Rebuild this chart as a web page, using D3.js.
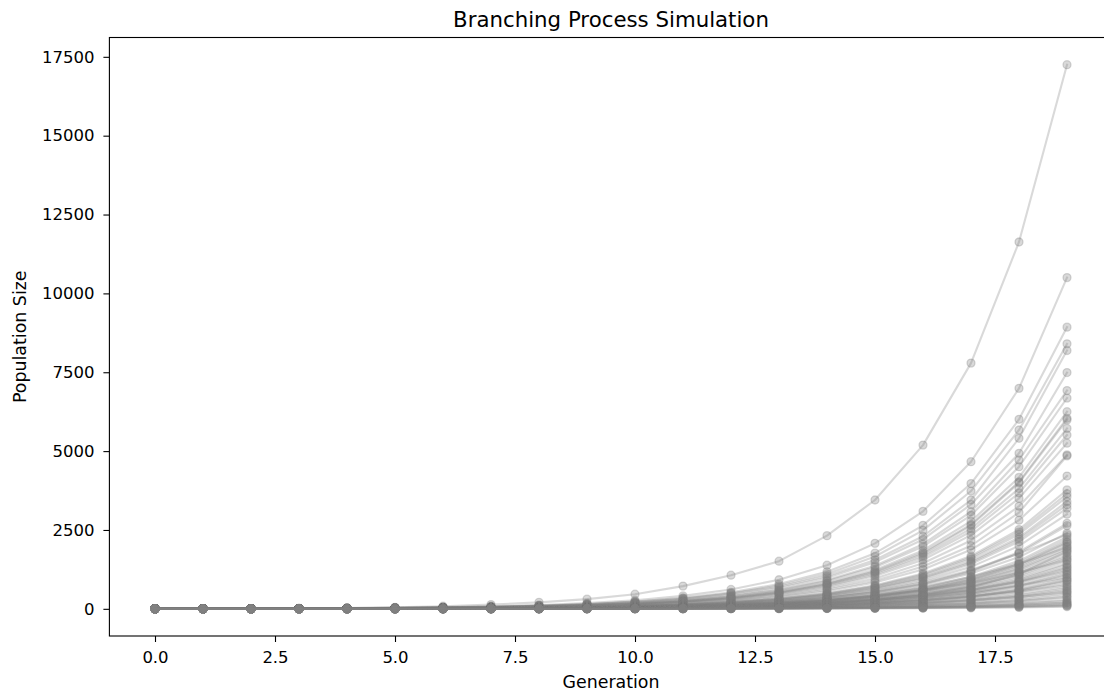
<!DOCTYPE html>
<html>
<head>
<meta charset="utf-8">
<script src="https://cdn.jsdelivr.net/npm/d3@7"></script>
<style>
    html, body { margin: 0; padding: 0; background: #fff; }
    text { font-family: "DejaVu Sans", sans-serif; fill: #000; }
</style>
</head>
<body>
<svg id="chart" width="1104" height="692"></svg>
<script>
// Generation index along the x axis
const generations = [0, 1, 2, 3, 4, 5, 6, 7, 8, 9, 10, 11, 12, 13, 14, 15, 16, 17, 18, 19];

// Population size per generation, one row per simulated run
const topRuns = [
    [1, 3, 6, 13, 26, 45, 82, 135, 205, 307, 464, 720, 1066, 1510, 2320, 3450, 5190, 7790, 11630, 17250],
    [1, 3, 6, 13, 24, 36, 54, 81, 121, 182, 273, 410, 615, 922, 1384, 2076, 3090, 4664, 6990, 10500]
];

const upperRuns = [
    [1, 2, 5, 10, 19, 31, 46, 69, 103, 155, 232, 349, 523, 784, 1176, 1765, 2647, 3971, 6008, 8930],
    [1, 3, 5, 9, 18, 29, 43, 65, 97, 146, 219, 328, 492, 738, 1106, 1660, 2489, 3734, 5670, 8400],
    [1, 2, 4, 9, 17, 28, 42, 63, 95, 142, 213, 320, 480, 700, 1040, 1550, 2300, 3450, 5406, 8190],
    [1, 2, 4, 8, 16, 26, 38, 58, 87, 130, 195, 292, 438, 658, 987, 1480, 2200, 3310, 4930, 7490],
    [1, 3, 5, 8, 15, 24, 36, 53, 80, 120, 180, 270, 405, 607, 910, 1365, 2050, 3078, 4718, 6920],
    [1, 2, 4, 7, 14, 23, 34, 51, 77, 116, 174, 260, 390, 586, 879, 1318, 1977, 2965, 4505, 6680],
    [1, 2, 3, 7, 13, 21, 32, 48, 72, 108, 163, 244, 366, 549, 823, 1235, 1852, 2778, 4167, 6250],
    [1, 2, 4, 7, 13, 21, 31, 46, 70, 105, 157, 235, 353, 529, 794, 1191, 1786, 2680, 4027, 6040],
    [1, 3, 5, 8, 13, 20, 30, 45, 68, 102, 153, 230, 345, 518, 777, 1166, 1750, 2640, 3993, 5990],
    [1, 2, 4, 6, 12, 19, 29, 44, 66, 99, 149, 223, 335, 502, 753, 1130, 1695, 2542, 3813, 5720],
    [1, 2, 3, 6, 12, 19, 28, 42, 64, 96, 144, 215, 323, 484, 727, 1090, 1635, 2452, 3673, 5510],
    [1, 2, 4, 6, 11, 18, 27, 40, 61, 91, 137, 205, 307, 461, 692, 1038, 1557, 2335, 3500, 5250],
    [1, 2, 3, 6, 11, 17, 25, 38, 56, 85, 127, 190, 285, 428, 642, 963, 1445, 2168, 3252, 4880],
    [1, 3, 4, 7, 11, 16, 24, 36, 53, 80, 120, 180, 268, 400, 600, 890, 1340, 2000, 3050, 4850]
];

const middleRuns = [
    [1, 2, 3, 5, 9, 14, 22, 32, 49, 73, 110, 164, 246, 370, 555, 832, 1248, 1872, 2810, 4210],
    [1, 2, 3, 5, 8, 13, 19, 29, 44, 65, 98, 147, 220, 331, 496, 744, 1117, 1675, 2513, 3770],
    [1, 1, 2, 4, 8, 13, 19, 28, 42, 63, 95, 143, 214, 321, 482, 723, 1084, 1626, 2439, 3650],
    [1, 2, 3, 5, 8, 12, 18, 27, 41, 62, 92, 138, 208, 311, 467, 700, 1051, 1577, 2365, 3550],
    [1, 2, 3, 4, 8, 12, 17, 26, 39, 59, 88, 132, 198, 298, 447, 670, 1005, 1508, 2262, 3400],
    [1, 1, 2, 4, 7, 11, 17, 25, 38, 57, 86, 129, 193, 290, 435, 652, 979, 1468, 2202, 3300],
    [1, 2, 3, 5, 7, 11, 16, 25, 37, 55, 83, 125, 187, 280, 420, 631, 946, 1419, 2128, 3190],
    [1, 2, 2, 4, 7, 10, 15, 23, 35, 52, 78, 117, 175, 263, 394, 591, 887, 1330, 1995, 3000],
    [1, 1, 2, 4, 6, 9, 14, 21, 31, 47, 70, 106, 158, 237, 356, 534, 801, 1202, 1803, 2710],
    [1, 2, 3, 4, 6, 9, 14, 20, 30, 46, 69, 103, 154, 232, 347, 521, 782, 1172, 1760, 2640],
    [1, 2, 3, 4, 6, 9, 13, 19, 29, 44, 66, 100, 150, 230, 350, 520, 760, 1120, 1640, 2400],
    [1, 1, 2, 3, 5, 8, 12, 19, 30, 46, 70, 108, 165, 250, 380, 570, 840, 1230, 1750, 2350],
    [1, 1, 2, 3, 5, 8, 12, 18, 26, 40, 59, 89, 134, 200, 301, 451, 677, 1015, 1522, 2280],
    [1, 2, 2, 3, 5, 8, 11, 17, 25, 38, 57, 86, 128, 193, 289, 434, 650, 975, 1463, 2200],
    [1, 1, 2, 3, 5, 7, 11, 16, 25, 37, 55, 83, 125, 187, 280, 420, 631, 946, 1419, 2130],
    [1, 2, 2, 3, 4, 6, 9, 13, 20, 30, 46, 70, 108, 165, 255, 390, 600, 920, 1400, 2100],
    [1, 1, 2, 3, 5, 7, 10, 16, 24, 35, 53, 80, 119, 179, 269, 403, 604, 906, 1360, 2050],
    [1, 2, 2, 3, 4, 7, 10, 15, 23, 34, 51, 77, 115, 173, 260, 390, 585, 877, 1315, 1980],
    [1, 1, 2, 3, 4, 7, 11, 17, 26, 40, 61, 92, 140, 210, 315, 470, 700, 1020, 1420, 1950],
    [1, 2, 3, 3, 5, 7, 10, 15, 22, 33, 50, 75, 112, 168, 252, 380, 570, 850, 1270, 1900],
    [1, 1, 2, 3, 4, 6, 10, 14, 22, 32, 48, 73, 109, 163, 245, 368, 552, 828, 1241, 1860],
    [1, 1, 1, 2, 3, 4, 6, 9, 14, 21, 32, 50, 78, 120, 185, 285, 440, 680, 1100, 1820],
    [1, 2, 3, 3, 4, 6, 9, 14, 21, 31, 46, 69, 104, 156, 234, 350, 525, 788, 1182, 1780],
    [1, 1, 2, 3, 4, 6, 9, 13, 20, 30, 44, 67, 100, 150, 225, 337, 506, 759, 1138, 1700],
    [1, 1, 2, 2, 3, 5, 8, 12, 18, 27, 41, 62, 94, 140, 210, 315, 470, 720, 1100, 1650],
    [1, 2, 2, 3, 5, 7, 11, 17, 26, 40, 60, 90, 134, 196, 285, 410, 590, 820, 1150, 1550]
];

const lowerRuns = [
    [1, 1, 2, 2, 4, 5, 8, 12, 18, 28, 42, 62, 93, 140, 210, 315, 473, 709, 1064, 1600],
    [1, 2, 2, 3, 4, 5, 8, 12, 18, 27, 40, 60, 89, 134, 201, 302, 453, 680, 1020, 1520],
    [1, 1, 2, 2, 3, 5, 7, 11, 17, 25, 37, 56, 84, 126, 190, 285, 427, 640, 961, 1440],
    [1, 1, 2, 3, 4, 5, 8, 12, 18, 26, 39, 58, 86, 128, 190, 280, 410, 610, 920, 1400],
    [1, 1, 1, 2, 3, 5, 7, 10, 15, 23, 35, 52, 78, 117, 175, 263, 394, 591, 887, 1330],
    [1, 1, 1, 2, 3, 4, 6, 9, 14, 21, 32, 48, 72, 110, 165, 250, 380, 570, 860, 1300],
    [1, 2, 2, 3, 3, 4, 6, 10, 14, 22, 32, 48, 73, 109, 163, 245, 368, 552, 828, 1250],
    [1, 2, 2, 3, 4, 6, 9, 13, 19, 28, 42, 63, 92, 135, 195, 285, 420, 600, 860, 1200],
    [1, 1, 2, 2, 3, 4, 6, 9, 13, 20, 30, 45, 67, 101, 152, 228, 342, 512, 769, 1160],
    [1, 1, 1, 2, 2, 3, 5, 7, 11, 16, 24, 36, 55, 85, 130, 200, 310, 480, 730, 1100],
    [1, 1, 1, 2, 3, 4, 5, 8, 12, 18, 28, 42, 62, 93, 140, 210, 315, 473, 709, 1070],
    [1, 1, 2, 2, 3, 5, 7, 10, 15, 23, 35, 52, 78, 115, 170, 250, 360, 520, 740, 1000],
    [1, 1, 2, 2, 3, 3, 5, 8, 11, 17, 25, 38, 57, 86, 128, 193, 289, 434, 650, 980],
    [1, 1, 1, 2, 2, 3, 5, 7, 11, 16, 24, 35, 53, 80, 120, 180, 269, 404, 606, 920],
    [1, 1, 1, 1, 2, 3, 4, 6, 9, 14, 21, 32, 48, 72, 110, 165, 250, 380, 590, 900],
    [1, 2, 2, 2, 3, 3, 4, 7, 10, 15, 22, 34, 51, 76, 114, 171, 256, 384, 576, 860],
    [1, 1, 1, 2, 2, 3, 4, 6, 9, 14, 21, 31, 47, 70, 105, 158, 236, 355, 532, 800],
    [1, 2, 2, 2, 3, 4, 6, 9, 13, 19, 28, 42, 62, 92, 135, 195, 280, 400, 550, 750],
    [1, 1, 1, 1, 2, 2, 4, 5, 8, 12, 18, 28, 42, 62, 93, 140, 210, 315, 473, 700]
];

const smallRuns = [
    [1, 1, 2, 2, 2, 2, 3, 5, 7, 11, 17, 25, 38, 56, 85, 127, 190, 286, 429, 650],
    [1, 1, 1, 1, 2, 2, 3, 5, 7, 10, 15, 23, 35, 52, 78, 117, 175, 265, 400, 600],
    [1, 1, 1, 1, 2, 2, 3, 4, 6, 10, 14, 22, 32, 49, 73, 109, 164, 246, 370, 560],
    [1, 1, 2, 2, 3, 4, 5, 7, 10, 15, 22, 32, 46, 66, 95, 135, 195, 275, 380, 520],
    [1, 2, 2, 2, 2, 2, 3, 4, 6, 8, 13, 19, 29, 43, 64, 96, 145, 217, 325, 490],
    [1, 1, 1, 1, 1, 1, 2, 3, 5, 7, 11, 16, 25, 37, 55, 83, 125, 187, 281, 430],
    [1, 1, 1, 2, 1, 1, 2, 3, 4, 7, 10, 15, 22, 33, 50, 74, 112, 167, 251, 380],
    [1, 1, 1, 1, 1, 2, 2, 3, 5, 7, 10, 15, 22, 33, 50, 75, 110, 160, 240, 350],
    [1, 1, 1, 1, 1, 1, 1, 2, 3, 5, 7, 11, 17, 25, 38, 57, 85, 128, 192, 280],
    [1, 1, 1, 1, 1, 1, 1, 2, 3, 4, 6, 10, 14, 21, 32, 48, 72, 108, 165, 250],
    [1, 1, 1, 1, 1, 1, 2, 2, 3, 4, 6, 9, 13, 19, 28, 42, 62, 92, 135, 200],
    [1, 1, 1, 1, 1, 1, 1, 2, 2, 3, 5, 7, 11, 17, 25, 38, 57, 85, 128, 190],
    [1, 1, 1, 1, 1, 1, 1, 2, 3, 4, 5, 7, 10, 15, 22, 32, 47, 70, 102, 150],
    [1, 1, 1, 1, 1, 1, 1, 1, 2, 2, 3, 5, 8, 11, 17, 26, 39, 58, 87, 130],
    [1, 1, 1, 1, 1, 1, 1, 1, 2, 3, 4, 6, 8, 12, 17, 25, 37, 54, 78, 110],
    [1, 1, 1, 1, 1, 1, 1, 1, 1, 2, 2, 3, 5, 8, 12, 18, 27, 40, 60, 90],
    [1, 1, 1, 1, 1, 1, 1, 1, 1, 2, 2, 3, 5, 7, 10, 14, 21, 31, 46, 70]
];

const xTicks = [0, 2.5, 5, 7.5, 10, 12.5, 15, 17.5];
const yTicks = [0, 2500, 5000, 7500, 10000, 12500, 15000, 17500];

const runs = [...topRuns, ...upperRuns, ...middleRuns, ...lowerRuns, ...smallRuns];

// Plot area (the right edge runs a little past the picture, as in the reference)
const plot = { left: 109.4, right: 1112.6, top: 37.5, bottom: 636 };

const svg = d3.select('#chart');
svg.append('rect').attr('width', 1104).attr('height', 692).attr('fill', '#fff');

// Matplotlib style 5% margins around the data
const allValues = runs.flat();
const [yMin, yMax] = d3.extent(allValues);
const yPad = (yMax - yMin) * 0.05;
const xPad = (d3.max(generations) - d3.min(generations)) * 0.05;

const x = d3.scaleLinear()
    .domain([d3.min(generations) - xPad, d3.max(generations) + xPad])
    .range([plot.left, plot.right]);

const y = d3.scaleLinear()
    .domain([yMin - yPad, yMax + yPad])
    .range([plot.bottom, plot.top]);

const line = d3.line()
    .x((d, i) => x(generations[i]))
    .y(d => y(d));

// One group per run: line first, then its markers on top
const runGroups = svg.append('g')
    .selectAll('g')
    .data(runs)
    .enter().append('g');

runGroups.append('path')
    .attr('d', line)
    .attr('fill', 'none')
    .attr('stroke', '#808080')
    .attr('stroke-opacity', 0.3)
    .attr('stroke-width', 2.1)
    .attr('stroke-linejoin', 'round')
    .attr('stroke-linecap', 'square');

runGroups.selectAll('circle')
    .data(d => d)
    .enter().append('circle')
    .attr('cx', (d, i) => x(generations[i]))
    .attr('cy', d => y(d))
    .attr('r', 4)
    .attr('fill', '#808080')
    .attr('fill-opacity', 0.3)
    .attr('stroke', '#808080')
    .attr('stroke-opacity', 0.3)
    .attr('stroke-width', 1.3);

// Axes
const tickFont = '16.5px';
const labelFont = '17.4px';

const xAxis = svg.append('g')
    .attr('transform', `translate(0,${plot.bottom})`)
    .call(d3.axisBottom(x).tickValues(xTicks).tickFormat(d3.format('.1f')).tickSize(6).tickPadding(9));

const yAxis = svg.append('g')
    .attr('transform', `translate(${plot.left},0)`)
    .call(d3.axisLeft(y).tickValues(yTicks).tickFormat(d3.format('d')).tickSize(6).tickPadding(9));

[xAxis, yAxis].forEach(ax => {
    ax.select('.domain').remove();
    ax.selectAll('line').attr('stroke', '#000').attr('stroke-width', 1.1);
    ax.selectAll('text')
        .attr('fill', '#000')
        .style('font-family', '"DejaVu Sans", sans-serif')
        .style('font-size', tickFont);
});

// Spines
svg.append('rect')
    .attr('x', plot.left)
    .attr('y', plot.top)
    .attr('width', plot.right - plot.left)
    .attr('height', plot.bottom - plot.top)
    .attr('fill', 'none')
    .attr('stroke', '#000')
    .attr('stroke-width', 1.1);

// Title and axis labels
const centerX = (plot.left + plot.right) / 2;

svg.append('text')
    .attr('x', centerX)
    .attr('y', 27)
    .attr('text-anchor', 'middle')
    .style('font-size', '21.3px')
    .text('Branching Process Simulation');

svg.append('text')
    .attr('x', centerX)
    .attr('y', 688)
    .attr('text-anchor', 'middle')
    .style('font-size', labelFont)
    .text('Generation');

svg.append('text')
    .attr('transform', `translate(26,${(plot.top + plot.bottom) / 2}) rotate(-90)`)
    .attr('text-anchor', 'middle')
    .style('font-size', labelFont)
    .text('Population Size');
</script>
</body>
</html>
